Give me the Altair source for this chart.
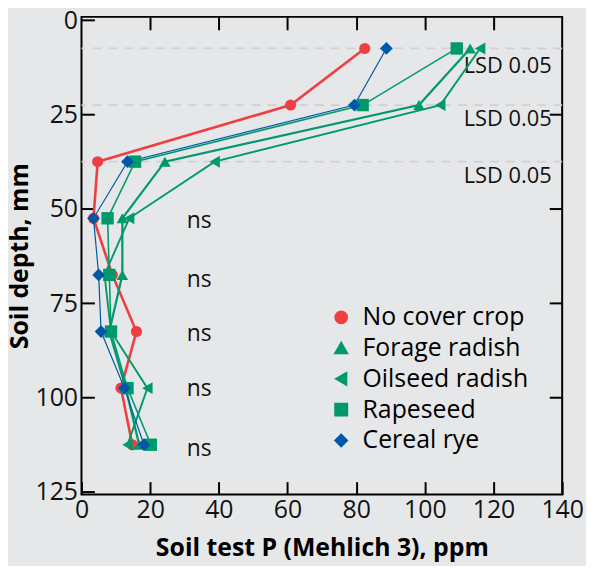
import altair as alt
import pandas as pd

depth = [7.5, 22.5, 37.5, 52.5, 67.5, 82.5, 97.5, 112.5]
series = ["No cover crop", "Forage radish", "Oilseed radish", "Rapeseed", "Cereal rye"]
no_cover = [82.5, 60.9, 4.7, 3.5, 9.0, 16.0, 11.5, 14.8]
forage = [113.2, 98.3, 24.3, 11.9, 11.9, 8.1, 12.9, 16.8]
oilseed = [116.1, 104.5, 38.8, 13.9, 6.7, 8.6, 19.2, 13.4]
rapeseed = [109.3, 81.9, 15.6, 7.6, 8.1, 8.6, 13.4, 20.2]
rye = [88.8, 79.5, 13.4, 3.5, 5.0, 5.7, 12.5, 18.2]
colors = ["#ef3e42", "#00996b", "#00996b", "#00996b", "#0057a8"]
shapes = ["circle", "triangle-up", "triangle-left", "square", "diamond"]
widths = [2.6, 1.2, 1.2, 1.2, 1.2]
sizes = [125, 165, 165, 160, 150]

lsd_depth = [7.5, 22.5, 37.5]
lsd_label_depth = [12.2, 26.1, 41.2]
lsd_label_x = 111.3
ns_depth = [53.1, 68.9, 83.3, 97.8, 113.6]
ns_x = 34.3

rows = []
for name, vals in zip(series, [no_cover, forage, oilseed, rapeseed, rye]):
    for d, v in zip(depth, vals):
        rows.append({"series": name, "depth": d, "p": v})
df = pd.DataFrame(rows)

FONT = "Open Sans"
xs = alt.Scale(domain=[0, 140], nice=False, zero=False)
ys = alt.Scale(domain=[-0.87, 125.7], reverse=True, nice=False, zero=False)
cs = alt.Scale(domain=series, range=colors)
ss = alt.Scale(domain=series, range=shapes)
ws = alt.Scale(domain=series, range=widths)
zs = alt.Scale(domain=series, range=sizes)

leg = alt.Legend(title=None, orient="none", legendX=249, legendY=290,
                 labelFont=FONT, labelFontSize=25, labelColor="black",
                 labelLimit=500, symbolSize=150, labelOffset=9, rowPadding=5,
                 symbolStrokeWidth=0)

TW = 2
TS = 13
x_bottom = alt.Axis(orient="bottom", values=[0, 20, 40, 60, 80, 100, 120, 140],
                    offset=-TS, tickSize=TS, tickWidth=TW, tickColor="black",
                    domain=False, grid=False, labelFont=FONT, labelFontSize=25,
                    labelColor="#111", labelPadding=3, labelFlush=False,
                    title="Soil test P (Mehlich 3), ppm", titleFont=FONT,
                    titleFontSize=25, titleFontWeight="bold", titleColor="black",
                    titlePadding=13)
y_left = alt.Axis(orient="left", values=[0, 25, 50, 75, 100, 125],
                  offset=-TS, tickSize=TS, tickWidth=TW, tickColor="black",
                  domain=False, grid=False, labelFont=FONT, labelFontSize=25,
                  labelColor="#111", labelPadding=4, labelFlush=False,
                  title="Soil depth, mm", titleFont=FONT, titleFontSize=25,
                  titleFontWeight="bold", titleColor="black", titlePadding=2)
x_top = alt.Axis(orient="top", values=[20, 40, 60, 80, 100, 120],
                 offset=-TS, tickSize=TS, tickWidth=TW, tickColor="black",
                 domain=False, grid=False, labels=False, title=None)
y_right = alt.Axis(orient="right", values=[25, 50, 75, 100],
                   offset=-TS, tickSize=TS, tickWidth=TW, tickColor="black",
                   domain=False, grid=False, labels=False, title=None)

base = alt.Chart(df)

rules = alt.Chart(pd.DataFrame({"d": lsd_depth})).mark_rule(
    color="#cfd1d3", strokeWidth=1.8, strokeDash=[9, 7]
).encode(y=alt.Y("d:Q", scale=ys, axis=None))

lines = base.mark_line().encode(
    x=alt.X("p:Q", scale=xs, axis=x_bottom),
    y=alt.Y("depth:Q", scale=ys, axis=y_left),
    color=alt.Color("series:N", scale=cs, legend=leg),
    strokeWidth=alt.StrokeWidth("series:N", scale=ws, legend=None),
    order=alt.Order("depth:Q"),
    detail="series:N",
)

points = base.mark_point(filled=True, opacity=1).encode(
    x=alt.X("p:Q", scale=xs, axis=x_top),
    y=alt.Y("depth:Q", scale=ys, axis=y_right),
    color=alt.Color("series:N", scale=cs, legend=leg),
    shape=alt.Shape("series:N", scale=ss, legend=leg),
    size=alt.Size("series:N", scale=zs, legend=None),
)

lsd = alt.Chart(pd.DataFrame({"d": lsd_label_depth, "x": [lsd_label_x] * 3,
                              "t": ["LSD 0.05"] * 3})).mark_text(
    align="left", baseline="middle", font=FONT, fontSize=22, color="#111"
).encode(x=alt.X("x:Q", scale=xs, axis=None),
         y=alt.Y("d:Q", scale=ys, axis=None), text="t:N")

ns = alt.Chart(pd.DataFrame({"d": ns_depth, "x": [ns_x] * 5,
                             "t": ["ns"] * 5})).mark_text(
    align="center", baseline="middle", font=FONT, fontSize=23, color="#111"
).encode(x=alt.X("x:Q", scale=xs, axis=None),
         y=alt.Y("d:Q", scale=ys, axis=None), text="t:N")

chart = alt.layer(rules, lsd, ns, lines, points).resolve_axis(
    x="independent", y="independent"
).properties(
    width=484, height=481,
    autosize=alt.AutoSizeParams(type="none"),
    padding={"left": 74, "top": 7, "right": 24, "bottom": 70},
    background="#e6e7e9",
).configure_view(fill="#e6e7e9", stroke="black", strokeWidth=2)

chart.save("out.html", embed_options={"renderer": "svg", "actions": False})
